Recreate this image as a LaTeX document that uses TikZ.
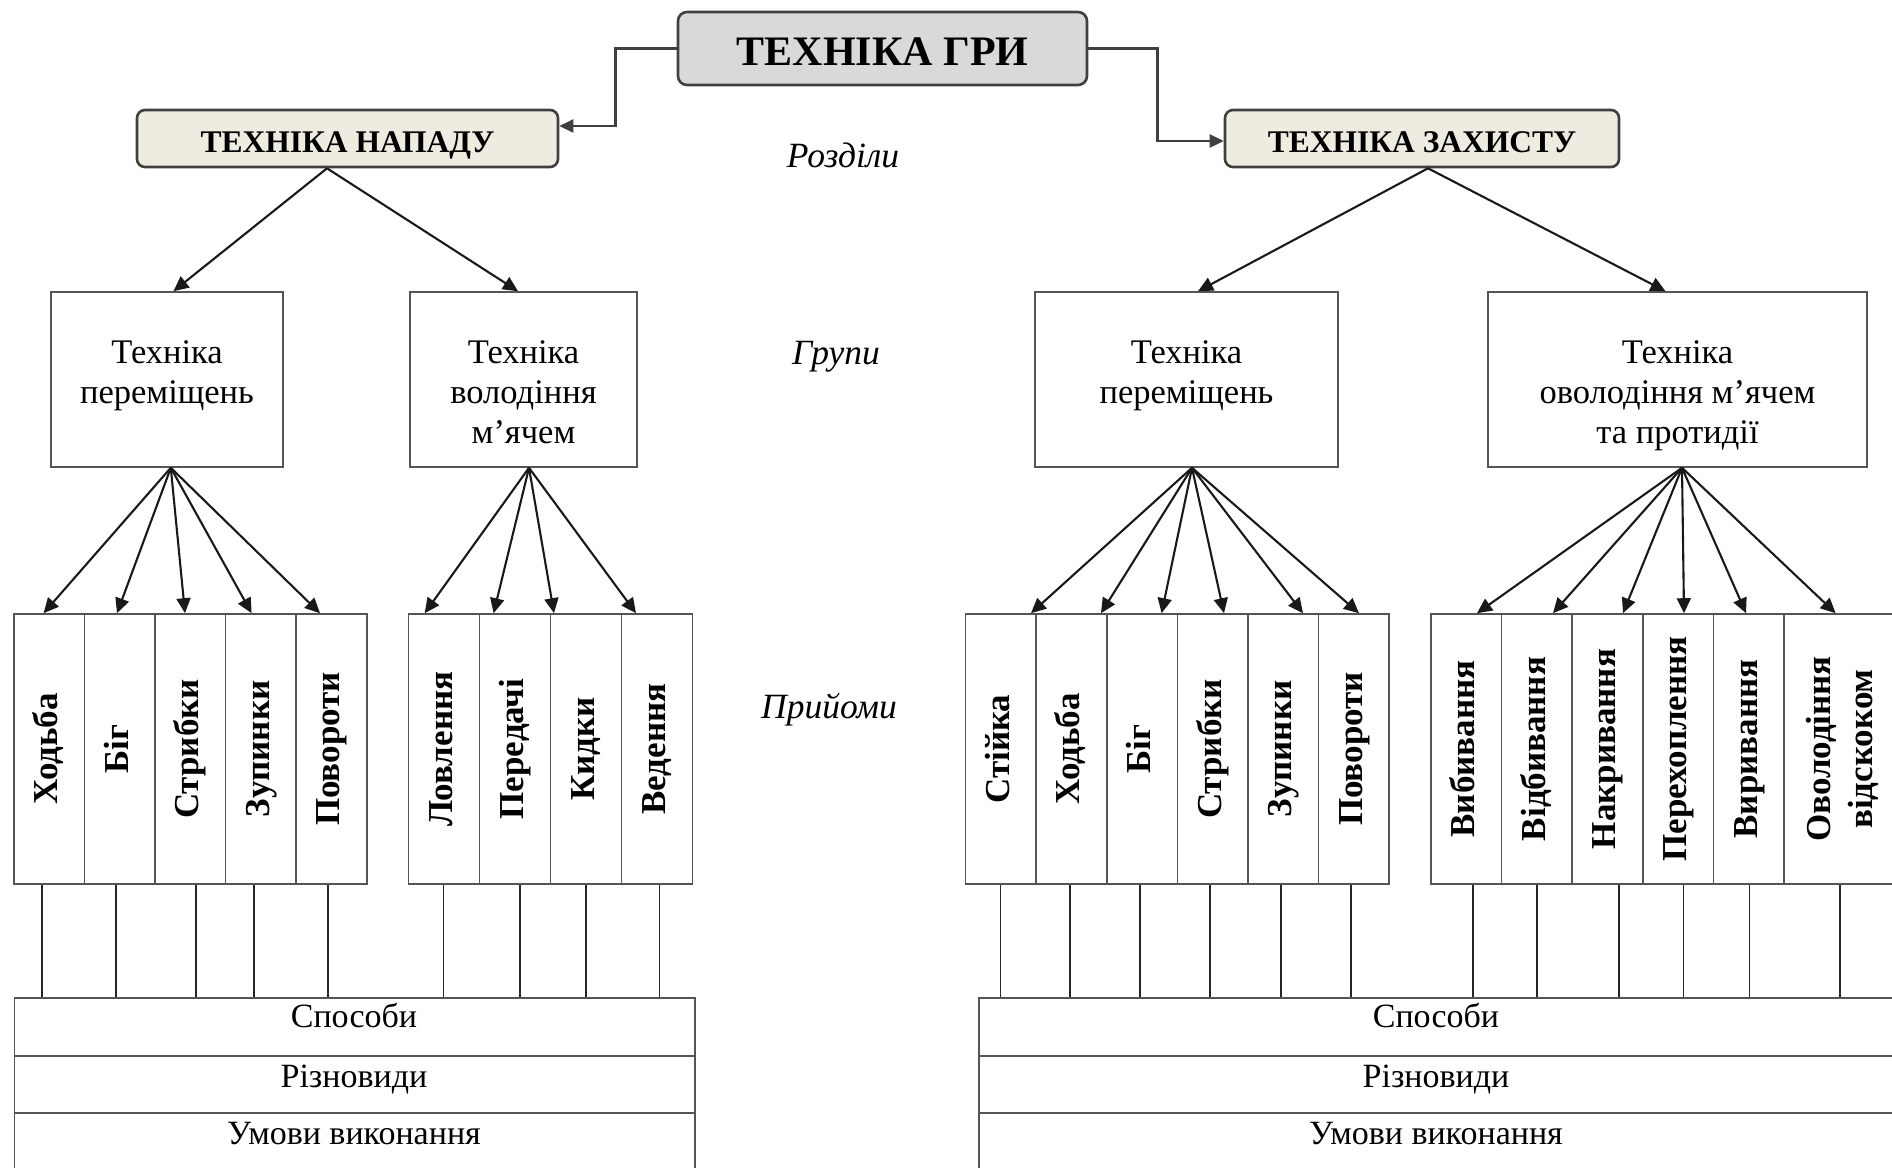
\documentclass[tikz,border=0pt]{standalone}
\usepackage{fontspec}
\setmainfont{Liberation Serif}
\usepackage{graphicx}
\usetikzlibrary{arrows.meta,calc}
\definecolor{topfill}{HTML}{D9D9D9}
\definecolor{secfill}{HTML}{EEECE1}
\definecolor{edge}{HTML}{404040}
\definecolor{thin}{HTML}{555555}
\newcommand\mystrut{\rule{0pt}{30pt}}
\newcommand\vlabel[1]{\rotatebox{90}{\begin{tabular}{@{}c@{}}#1\end{tabular}}}
\begin{document}
\begin{tikzpicture}[x=1pt,y=-1pt,
 mainbox/.style={draw=edge, line width=2.6pt, rounded corners=9pt, fill=topfill, inner sep=0pt, text height=33pt, text depth=0pt, font=\fontsize{42}{50}\selectfont\bfseries},
 secbox/.style={draw=edge, line width=2.6pt, rounded corners=8pt, fill=secfill, inner sep=0pt, minimum height=57pt, text height=28.4pt, text depth=0pt, font=\fontsize{31.5}{38}\selectfont\bfseries},
 grpbox/.style={draw=thin, line width=1.6pt, inner sep=0pt, minimum height=175pt},
 grptext/.style={anchor=north, inner sep=0pt, align=center, font=\fontsize{34.5}{40}\selectfont},
 colbox/.style={draw=thin, line width=1.6pt, inner sep=0pt, minimum height=270pt, minimum width=70.6pt, font=\fontsize{35}{42}\selectfont\bfseries},
 rowbox/.style={draw=thin, line width=1.6pt, inner sep=0pt, anchor=north west},
 rowtext/.style={anchor=base, inner sep=0pt, font=\fontsize{34}{38}\selectfont},
 cat/.style={anchor=base, inner sep=0pt, font=\fontsize{35.5}{40}\selectfont\itshape},
 arr/.style={draw=black!90, line width=2.1pt, -{Triangle[length=15pt,width=14pt]}},
 toparr/.style={draw=edge, line width=2.6pt, -{Triangle[length=14pt,width=13pt]}},
 link/.style={draw=black!85, line width=1.6pt},
]
\useasboundingbox (0,0) rectangle (1892,1167);
\clip (0,0) rectangle (1892,1167);

% top level
\node[mainbox, minimum width=409pt, minimum height=73pt] (top) at (882.5,48.5) {ТЕХНІКА ГРИ};
\node[secbox, minimum width=421pt] (nap) at (347.5,138.5) {ТЕХНІКА НАПАДУ};
\node[secbox, minimum width=394pt] (zah) at (1422,138.5) {ТЕХНІКА ЗАХИСТУ};
\draw[toparr] (top.west) -- ++(-61,0) |- ([yshift=12.5pt]nap.east);
\draw[toparr] (top.east) -- ++(69,0) |- ([yshift=-2.5pt]zah.west);

% category labels
\node[cat] (lr) at (843,167) {Розділи};
\node[cat] (lg) at (836,364) {Групи};
\node[cat] (lp) at (829,718) {Прийоми};

% groups
\node[grpbox, minimum width=232pt] (g1) at (167,379.5) {};
\node[grpbox, minimum width=227pt] (g2) at (523.5,379.5) {};
\node[grpbox, minimum width=303pt] (g3) at (1186.5,379.5) {};
\node[grpbox, minimum width=379pt] (g4) at (1677.5,379.5) {};
\node[grptext] (t1) at ([yshift=-42pt]g1.north) {\mystrut Техніка\\переміщень};
\node[grptext] (t2) at ([yshift=-42pt]g2.north) {\mystrut Техніка\\володіння\\м’ячем};
\node[grptext] (t3) at ([yshift=-42pt]g3.north) {\mystrut Техніка\\переміщень};
\node[grptext] (t4) at ([yshift=-42pt]g4.north) {\mystrut Техніка\\оволодіння м’ячем\\та протидії};

\draw[arr] ([xshift=-20.5pt]nap.south) -- ([xshift=6.5pt]g1.north);
\draw[arr] ([xshift=-20.5pt]nap.south) -- ([xshift=-5.5pt]g2.north);
\draw[arr] ([xshift=6pt]zah.south) -- ([xshift=11.5pt]g3.north);
\draw[arr] ([xshift=6pt]zah.south) -- ([xshift=-12pt]g4.north);

% technique columns
\node[colbox] (a1) at (49.1,749) {\vlabel{Ходьба}};
\node[colbox] (a2) at (119.7,749) {\vlabel{Біг}};
\node[colbox] (a3) at (190.3,749) {\vlabel{Стрибки}};
\node[colbox] (a4) at (260.9,749) {\vlabel{Зупинки}};
\node[colbox] (a5) at (331.5,749) {\vlabel{Повороти}};

\node[colbox, minimum width=71pt] (b1) at (444.1,749) {\vlabel{Ловлення}};
\node[colbox, minimum width=71pt] (b2) at (515.1,749) {\vlabel{Передачі}};
\node[colbox, minimum width=71pt] (b3) at (586.1,749) {\vlabel{Кидки}};
\node[colbox, minimum width=71pt] (b4) at (657.1,749) {\vlabel{Ведення}};

\node[colbox] (c1) at (1000.8,749) {\vlabel{Стійка}};
\node[colbox] (c2) at (1071.4,749) {\vlabel{Ходьба}};
\node[colbox] (c3) at (1142,749) {\vlabel{Біг}};
\node[colbox] (c4) at (1212.6,749) {\vlabel{Стрибки}};
\node[colbox] (c5) at (1283.2,749) {\vlabel{Зупинки}};
\node[colbox] (c6) at (1353.8,749) {\vlabel{Повороти}};

\node[colbox] (d1) at (1466,749) {\vlabel{Вибивання}};
\node[colbox] (d2) at (1536.7,749) {\vlabel{Відбивання}};
\node[colbox] (d3) at (1607.4,749) {\vlabel{Накривання}};
\node[colbox] (d4) at (1678.1,749) {\vlabel{Перехоплення}};
\node[colbox] (d5) at (1748.8,749) {\vlabel{Виривання}};
\node[colbox, minimum width=116.8pt] (d6) at (1842.6,749) {\vlabel{Оволодіння\\відскоком}};

% fan arrows
\draw[arr] ([xshift=3.8pt]g1.south) -- ([xshift=-5.5pt]a1.north);
\draw[arr] ([xshift=3.8pt]g1.south) -- ([xshift=-2.7pt]a2.north);
\draw[arr] ([xshift=3.8pt]g1.south) -- ([xshift=-5.3pt]a3.north);
\draw[arr] ([xshift=3.8pt]g1.south) -- ([xshift=-9.3pt]a4.north);
\draw[arr] ([xshift=3.8pt]g1.south) -- ([xshift=-11.5pt]a5.north);

\draw[arr] ([xshift=5.5pt]g2.south) -- ([xshift=-19.4pt]b1.north);
\draw[arr] ([xshift=5.5pt]g2.south) -- ([xshift=-21.5pt]b2.north);
\draw[arr] ([xshift=5.5pt]g2.south) -- ([xshift=-32.1pt]b3.north);
\draw[arr] ([xshift=5.5pt]g2.south) -- ([xshift=-21.1pt]b4.north);

\draw[arr] ([xshift=5.5pt]g3.south) -- ([xshift=30.2pt]c1.north);
\draw[arr] ([xshift=5.5pt]g3.south) -- ([xshift=29.6pt]c2.north);
\draw[arr] ([xshift=5.5pt]g3.south) -- ([xshift=19.6pt]c3.north);
\draw[arr] ([xshift=5.5pt]g3.south) -- ([xshift=11.4pt]c4.north);
\draw[arr] ([xshift=5.5pt]g3.south) -- ([xshift=19.8pt]c5.north);
\draw[arr] ([xshift=5.5pt]g3.south) -- ([xshift=5.2pt]c6.north);

\draw[arr] ([xshift=4.5pt]g4.south) -- ([xshift=11pt]d1.north);
\draw[arr] ([xshift=4.5pt]g4.south) -- ([xshift=16.3pt]d2.north);
\draw[arr] ([xshift=4.5pt]g4.south) -- ([xshift=15.6pt]d3.north);
\draw[arr] ([xshift=4.5pt]g4.south) -- ([xshift=5.9pt]d4.north);
\draw[arr] ([xshift=4.5pt]g4.south) -- ([xshift=-2.8pt]d5.north);
\draw[arr] ([xshift=4.5pt]g4.south) -- ([xshift=-7pt]d6.north);

% bottom rows
\node[rowbox, minimum width=680.2pt, minimum height=58pt] (l1) at (13.8,997) {};
\node[rowbox, minimum width=680.2pt, minimum height=57pt] (l2) at (13.8,1055) {};
\node[rowbox, minimum width=680.2pt, minimum height=70pt] (l3) at (13.8,1112) {};
\node[rowbox, minimum width=922pt, minimum height=58pt] (r1) at (978,997) {};
\node[rowbox, minimum width=922pt, minimum height=57pt] (r2) at (978,1055) {};
\node[rowbox, minimum width=922pt, minimum height=70pt] (r3) at (978,1112) {};
\node[rowtext] (tl1) at (354,1027) {Способи};
\node[rowtext] (tl2) at (354,1087) {Різновиди};
\node[rowtext] (tl3) at (354,1144) {Умови виконання};
\node[rowtext] (tr1) at (1436,1027) {Способи};
\node[rowtext] (tr2) at (1436,1087) {Різновиди};
\node[rowtext] (tr3) at (1436,1144) {Умови виконання};

% vertical links
\foreach \n/\d in {a1/-6.9, a2/-4, a3/5.7, a4/-6.9, a5/-3.7}
  \draw[link] ([xshift=\d pt]\n.south) -- ([xshift=\d pt]\n.south |- l1.north);
\foreach \n/\d in {b1/-0.6, b2/4.6, b3/-0.2, b4/2.2}
  \draw[link] ([xshift=\d pt]\n.south) -- ([xshift=\d pt]\n.south |- l1.north);
\foreach \n/\d in {c1/-0.4, c2/-1.4, c3/-2, c4/-2.9, c5/-2.2, c6/-2.8}
  \draw[link] ([xshift=\d pt]\n.south) -- ([xshift=\d pt]\n.south |- r1.north);
\foreach \n/\d in {d1/7, d2/0, d3/11.3, d4/5.4, d5/0.7, d6/-2.6}
  \draw[link] ([xshift=\d pt]\n.south) -- ([xshift=\d pt]\n.south |- r1.north);
\end{tikzpicture}
\end{document}
